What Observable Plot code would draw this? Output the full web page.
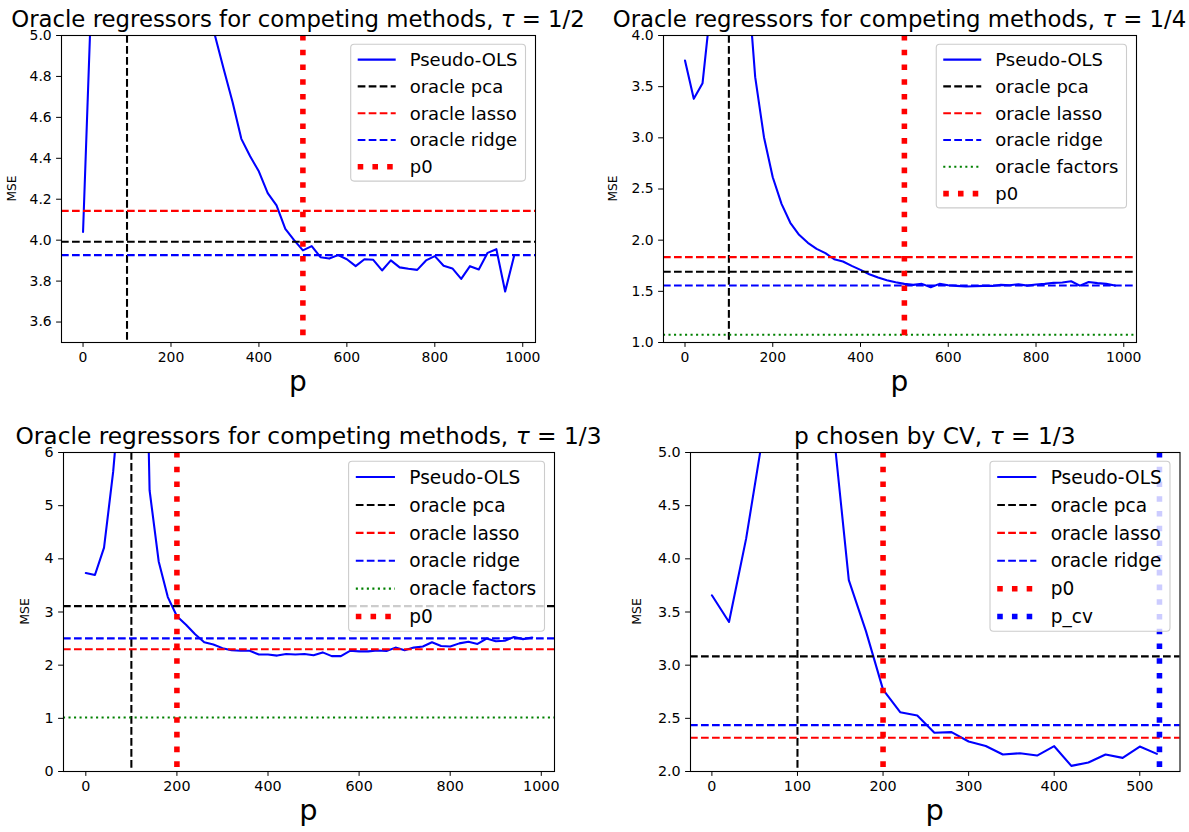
<!DOCTYPE html>
<html><head><meta charset="utf-8">
<script src="https://cdn.jsdelivr.net/npm/d3@7"></script>
<script src="https://cdn.jsdelivr.net/npm/@observablehq/plot@0.6"></script>
<style>
html,body{margin:0;padding:0;background:#fff;}
#root{position:relative;width:1189px;height:832px;overflow:hidden;font-family:"DejaVu Sans",sans-serif;background:#fff;}
#root svg{position:absolute;overflow:visible;}
</style></head><body><div id="root"></div>
<script>
// ---------- data ----------
const pGrid = [0,20,40,60,80,100,120,140,160,180,200,220,240,260,280,300,320,340,360,380,400,420,440,460,480,500,520,540,560,580,600,620,640,660,680,700,720,740,760,780,800,820,840,860,880,900,920,940,960,980];
const pCvGrid = [0,20,40,60,80,100,120,140,160,180,200,220,240,260,280,300,320,340,360,380,400,420,440,460,480,500,520];

// tau = 1/2
const mseHalf = [4.04,5.26,7.0,12.0,30.0,80.0,30.0,14.0,9.5,7.6,6.6,6.0,5.6,5.35,5.15,5.0,4.835,4.675,4.495,4.41,4.335,4.23,4.17,4.055,4.0,3.95,3.971,3.917,3.91,3.927,3.907,3.873,3.907,3.904,3.852,3.901,3.867,3.86,3.855,3.901,3.922,3.875,3.862,3.811,3.873,3.857,3.938,3.956,3.749,3.92];
// tau = 1/4
const mseQuarter = [3.756,3.381,3.534,4.34,10,40,8,4.71,3.593,3.006,2.615,2.355,2.17,2.052,1.974,1.915,1.873,1.814,1.791,1.749,1.71,1.667,1.635,1.609,1.589,1.573,1.563,1.573,1.54,1.573,1.56,1.553,1.547,1.55,1.553,1.553,1.563,1.56,1.57,1.556,1.566,1.573,1.583,1.586,1.599,1.556,1.592,1.58,1.573,1.556];
// tau = 1/3
const mseThird = [3.733,3.696,4.21,5.635,7.6,40,13.6,5.29,3.95,3.28,2.92,2.76,2.58,2.43,2.39,2.32,2.28,2.27,2.27,2.2,2.2,2.18,2.21,2.2,2.21,2.185,2.24,2.17,2.17,2.27,2.26,2.26,2.275,2.265,2.33,2.28,2.33,2.35,2.43,2.36,2.35,2.41,2.44,2.4,2.5,2.45,2.46,2.53,2.49,2.52];
// p chosen by CV, tau = 1/3
const mseCv = [3.657,3.406,4.19,5.18,8,30,9,5.37,3.8,3.32,2.77,2.558,2.527,2.364,2.37,2.282,2.24,2.16,2.172,2.15,2.238,2.053,2.085,2.16,2.128,2.235,2.166];

// oracle levels
const oracleHalf = {pca: 3.992, lasso: 4.143, ridge: 3.927};
const oracleQuarter = {pca: 1.691, lasso: 1.834, ridge: 1.557, factors: 1.075};
const oracleThird = {pca: 3.11, lasso: 2.30, ridge: 2.504, factors: 1.017};
const oracleCv = {pca: 3.083, lasso: 2.317, ridge: 2.436};

const pcaComponents = [100, 100, 100, 100];
const p0Values = [500, 500, 200, 200];
const pCvValue = 523;

const titles = [
  ["Oracle regressors for competing methods, ", "τ", " = 1/2"],
  ["Oracle regressors for competing methods, ", "τ", " = 1/4"],
  ["Oracle regressors for competing methods, ", "τ", " = 1/3"],
  ["p chosen by CV, ", "τ", " = 1/3"]
];
const xTicksLong = [0,200,400,600,800,1000];
const xTicksShort = [0,100,200,300,400,500];
const yTicksHalf = [3.6,3.8,4.0,4.2,4.4,4.6,4.8,5.0];
const yTicksQuarter = [1.0,1.5,2.0,2.5,3.0,3.5,4.0];
const yTicksThird = [0,1,2,3,4,5,6];
const yTicksCv = [2.0,2.5,3.0,3.5,4.0,4.5,5.0];

// ---------- styling ----------
const LW = 2.08, DASH = "7.7,3.3", DOT = "2.08,3.43", BIGW = 5.56, BIGDOT = "5.56,9.17";
const BLUE = "#0000ff", RED = "#ff0000", GREEN = "#008000", BLACK = "#000000";

const root = document.getElementById("root");

function panel(cfg) {
  const rows = cfg.p.map((p, i) => ({p, v: cfg.mse[i]}));
  const o = cfg.oracle;
  const marks = [
    Plot.line(rows, {x: "p", y: "v", stroke: BLUE, strokeWidth: LW, clip: true}),
    Plot.ruleX([cfg.pca], {stroke: BLACK, strokeWidth: LW, strokeDasharray: DASH}),
    Plot.ruleY([o.pca], {stroke: BLACK, strokeWidth: LW, strokeDasharray: DASH}),
    Plot.ruleY([o.lasso], {stroke: RED, strokeWidth: LW, strokeDasharray: DASH}),
    Plot.ruleY([o.ridge], {stroke: BLUE, strokeWidth: LW, strokeDasharray: DASH})
  ];
  const items = [
    {label: "Pseudo-OLS", color: BLUE, w: LW, dash: null},
    {label: "oracle pca", color: BLACK, w: LW, dash: DASH},
    {label: "oracle lasso", color: RED, w: LW, dash: DASH},
    {label: "oracle ridge", color: BLUE, w: LW, dash: DASH}
  ];
  if (o.factors !== undefined) {
    marks.push(Plot.ruleY([o.factors], {stroke: GREEN, strokeWidth: LW, strokeDasharray: DOT}));
    items.push({label: "oracle factors", color: GREEN, w: LW, dash: DOT});
  }
  marks.push(Plot.ruleX([cfg.p0], {stroke: RED, strokeWidth: BIGW, strokeDasharray: BIGDOT}));
  items.push({label: "p0", color: RED, w: BIGW, dash: BIGDOT});
  if (cfg.pcv !== undefined) {
    marks.push(Plot.ruleX([cfg.pcv], {stroke: BLUE, strokeWidth: BIGW, strokeDasharray: BIGDOT}));
    items.push({label: "p_cv", color: BLUE, w: BIGW, dash: BIGDOT});
  }
  marks.push(Plot.frame({stroke: BLACK, strokeWidth: 1.1}));

  const s = cfg.scale;
  const svg = Plot.plot({
    width: cfg.width, height: cfg.height,
    marginLeft: cfg.ml, marginRight: cfg.mr, marginTop: cfg.mt, marginBottom: cfg.mb,
    style: {fontFamily: "DejaVu Sans", fontSize: (13.9 * s) + "px", background: "transparent", overflow: "visible", color: "#000"},
    x: {domain: cfg.xdomain, ticks: cfg.xticks, tickSize: 4.9, tickPadding: 4.9, tickFormat: d => String(d), label: null},
    y: {domain: cfg.ydomain, ticks: cfg.yticks, tickSize: 4.9, tickPadding: 4.9, tickFormat: cfg.yfmt, label: null},
    marks
  });
  svg.style.left = cfg.left + "px";
  svg.style.top = cfg.top + "px";
  root.appendChild(svg);

  const S = d3.select(svg);
  const fx0 = cfg.ml, fx1 = cfg.width - cfg.mr, fy0 = cfg.mt, fy1 = cfg.height - cfg.mb;
  const cx = (fx0 + fx1) / 2, cy = (fy0 + fy1) / 2;

  // title
  const t = S.append("text").attr("x", cx).attr("y", fy0 - 8.3)
    .attr("text-anchor", "middle").attr("fill", "#000")
    .style("font-size", cfg.titleSize + "px").style("font-family", "DejaVu Sans");
  t.append("tspan").text(cfg.title[0]);
  t.append("tspan").style("font-style", "italic").text(cfg.title[1]);
  t.append("tspan").text(cfg.title[2]);

  // axis labels
  S.append("text").attr("x", cx).attr("y", fy1 + 48.5).attr("text-anchor", "middle")
    .attr("fill", "#000").style("font-size", (28 * s) + "px").text("p");
  S.append("text").attr("transform", `translate(${fx0 - cfg.ylabOff},${cy}) rotate(-90)`)
    .attr("text-anchor", "middle").attr("fill", "#000").style("font-size", (12.2 * s) + "px").text("MSE");

  // legend
  const fs = 18 * s, pitch = cfg.pitch;
  const g = S.append("g");
  const box = g.append("rect");
  const top = fy0 + 9.3;
  let maxW = 0;
  items.forEach((it, i) => {
    const yc = top + 15.3 * s + i * pitch;
    const tx = g.append("text").attr("y", yc).attr("dy", "0.36em").attr("text-anchor", "start")
      .attr("fill", "#000").style("font-size", fs + "px").text(it.label);
    it._t = tx; it._y = yc;
    maxW = Math.max(maxW, tx.node().getComputedTextLength());
  });
  const bw = 59 * s + maxW + 8 * s;
  const bh = 15.3 * s * 2 + (items.length - 1) * pitch - 1;
  const bx = fx1 - 9.5 - bw;
  box.attr("x", bx).attr("y", top).attr("width", bw).attr("height", bh)
    .attr("rx", 3.5).attr("fill", "#ffffff").attr("fill-opacity", 0.8)
    .attr("stroke", "#cccccc").attr("stroke-width", 1.1);
  items.forEach(it => {
    it._t.attr("x", bx + 59 * s);
    const ln = g.append("line").attr("x1", bx + 7 * s).attr("x2", bx + 45 * s)
      .attr("y1", it._y).attr("y2", it._y).attr("stroke", it.color).attr("stroke-width", it.w);
    if (it.dash) ln.attr("stroke-dasharray", it.dash);
  });
}

const fmt1 = d => d.toFixed(1);
const fmt0 = d => String(d);

panel({left: 0, top: 0, width: 595, height: 416, ml: 61, mr: 60, mt: 35, mb: 74, scale: 1, titleSize: 22.8, pitch: 26.8,
  p: pGrid, mse: mseHalf, oracle: oracleHalf, pca: pcaComponents[0], p0: p0Values[0],
  xdomain: [-49, 1029], ydomain: [3.5, 5.0], xticks: xTicksLong, yticks: yTicksHalf, yfmt: fmt1,
  title: titles[0], ylabOff: 45});
panel({left: 595, top: 0, width: 594, height: 416, ml: 68, mr: 53, mt: 35, mb: 74, scale: 1, titleSize: 22.8, pitch: 26.8,
  p: pGrid, mse: mseQuarter, oracle: oracleQuarter, pca: pcaComponents[1], p0: p0Values[1],
  xdomain: [-49, 1029], ydomain: [1.0, 4.0], xticks: xTicksLong, yticks: yTicksQuarter, yfmt: fmt1,
  title: titles[1], ylabOff: 46});
panel({left: 0, top: 416, width: 595, height: 416, ml: 63, mr: 41, mt: 36, mb: 61, scale: 1.03, titleSize: 23.3, pitch: 27.9,
  p: pGrid, mse: mseThird, oracle: oracleThird, pca: pcaComponents[2], p0: p0Values[2],
  xdomain: [-49, 1029], ydomain: [0, 6], xticks: xTicksLong, yticks: yTicksThird, yfmt: fmt0,
  title: titles[2], ylabOff: 34});
panel({left: 595, top: 416, width: 594, height: 416, ml: 95, mr: 9.5, mt: 36, mb: 61, scale: 1.03, titleSize: 23.3, pitch: 27.9,
  p: pCvGrid, mse: mseCv, oracle: oracleCv, pca: pcaComponents[3], p0: p0Values[3], pcv: pCvValue,
  xdomain: [-25, 547], ydomain: [2.0, 5.0], xticks: xTicksShort, yticks: yTicksCv, yfmt: fmt1,
  title: titles[3], ylabOff: 49});
</script>
</body></html>
